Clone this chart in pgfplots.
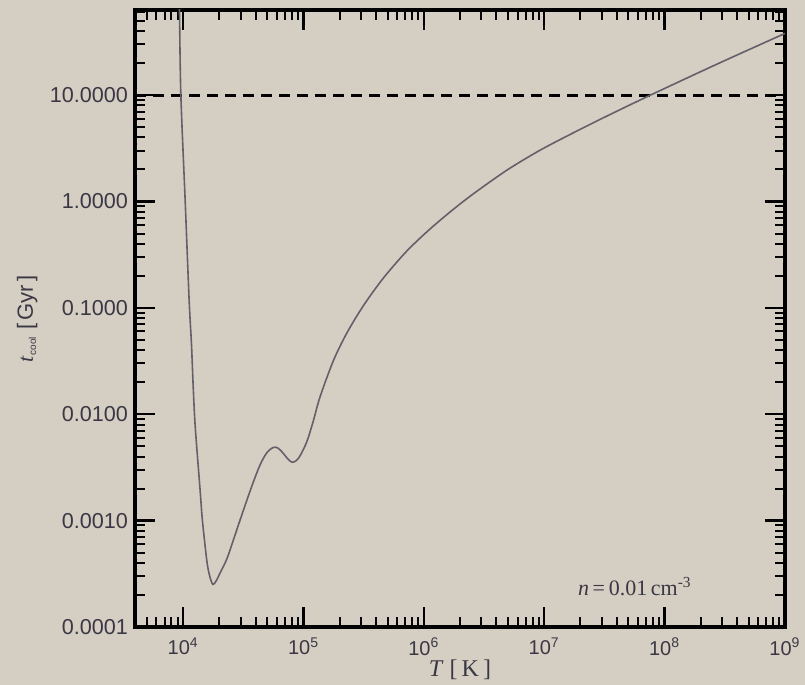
\documentclass[border=0pt]{standalone}
\usepackage{fontspec}
\setmainfont{Liberation Sans}
\newfontfamily\seriffont{Liberation Serif}
\usepackage{pgfplots}
\pgfplotsset{compat=1.18}

\definecolor{paper}{RGB}{213,206,195}
\definecolor{labelgray}{RGB}{58,56,68}
\definecolor{curvegray}{RGB}{100,96,106}

\begin{document}
\begin{tikzpicture}
\fill[paper] (-67.5pt,-29pt) rectangle (335pt,313.5pt);
\begin{axis}[
  at={(0pt,0pt)}, anchor=south west,
  scale only axis, width=325pt, height=308.5pt,
  xmode=log, ymode=log,
  xmin=3981, xmax=1e9, ymin=1e-4, ymax=63.1,
  axis line style={line width=1.6pt, black},
  tick align=inside,
  major tick length=10pt, minor tick length=5pt,
  major tick style={line width=1.2pt, black},
  minor tick style={line width=1.0pt, black},
  xtick={1e4,1e5,1e6,1e7,1e8,1e9},
  xticklabels={10\textsuperscript{4},10\textsuperscript{5},10\textsuperscript{6},10\textsuperscript{7},10\textsuperscript{8},10\textsuperscript{9}},
  minor xtick={5e3,6e3,7e3,8e3,9e3,
    2e4,3e4,4e4,5e4,6e4,7e4,8e4,9e4,
    2e5,3e5,4e5,5e5,6e5,7e5,8e5,9e5,
    2e6,3e6,4e6,5e6,6e6,7e6,8e6,9e6,
    2e7,3e7,4e7,5e7,6e7,7e7,8e7,9e7,
    2e8,3e8,4e8,5e8,6e8,7e8,8e8,9e8},
  ytick={1e-4,1e-3,1e-2,1e-1,1,10},
  yticklabels={0.0001,0.0010,0.0100,0.1000,1.0000,10.0000},
  minor ytick={2e-4,3e-4,4e-4,5e-4,6e-4,7e-4,8e-4,9e-4,
    2e-3,3e-3,4e-3,5e-3,6e-3,7e-3,8e-3,9e-3,
    2e-2,3e-2,4e-2,5e-2,6e-2,7e-2,8e-2,9e-2,
    0.2,0.3,0.4,0.5,0.6,0.7,0.8,0.9,
    2,3,4,5,6,7,8,9,
    20,30,40,50,60},
  xticklabel style={font=\fontsize{10}{12}\selectfont, text=labelgray, yshift=-2pt},
  yticklabel style={font=\fontsize{10.8}{13}\selectfont, text=labelgray},
  xlabel={{\seriffont\textit{T} [\,K\,]}},
  xlabel style={at={(axis description cs:0.5,0)}, anchor=center, yshift=-21.5pt,
    font=\fontsize{12}{14}\selectfont, text=labelgray},
  ylabel={{\seriffont\textit{t}}\textsubscript{\tiny cool} [\,Gyr\,]},
  ylabel style={at={(axis description cs:-0.166,0.5)}, anchor=center,
    font=\fontsize{11}{13}\selectfont, text=labelgray},
  clip=true,
]
% reference cooling time of 10 Gyr
\addplot[black, line width=1.4pt, dash pattern=on 5.5pt off 3.5pt]
  coordinates {(3981,10) (1e9,10)};

% cooling time of gas at n = 0.01 cm^-3 (T in K, t_cool in Gyr)
\addplot[curvegray, line width=0.8pt, smooth, tension=0.5] table {
T          tcool
9.141e3    231.7
9.318e3    63.15
9.570e3    10.0
1.0390e4   1.0264
1.1215e4   0.11739
1.1719e4   0.04622
1.2109e4   0.01859
1.2581e4   0.007810
1.3842e4   0.0019079
1.4465e4   0.0009956
1.5735e4   0.00041826
1.6602e4   0.00030214
1.7647e4   0.00025130
1.8796e4   0.00027116
2.0291e4   0.00032255
2.3067e4   0.00043685
2.6167e4   0.00065949
2.9745e4   0.0010174
3.3818e4   0.0015527
3.8354e4   0.0023189
4.3605e4   0.0033530
4.9568e4   0.0043495
5.6234e4   0.0048804
6.1518e4   0.0047969
6.7702e4   0.0043026
7.4493e4   0.0037768
8.0422e4   0.0035400
8.6795e4   0.0036563
9.3712e4   0.0040753
1.0651e5   0.0055208
1.2015e5   0.0085192
1.3738e5   0.014646
1.7712e5   0.031908
2.2887e5   0.057901
3.1443e5   0.10488
4.6097e5   0.19079
7.2111e5   0.34196
1.1259e6   0.55208
1.7579e6   0.84469
2.6617e6   1.2129
4.9568e6   1.9886
9.2278e6   3.0344
1.7348e7   4.4063
3.3048e7   6.3445
7.8137e7   10.130
2.7774e8   19.755
1.0e9      38.019
};

\node[font=\seriffont\fontsize{11}{13}\selectfont, text=labelgray]
  at (rel axis cs:0.769,0.065) {\textit{n}\,=\,0.01\,cm\textsuperscript{-3}};
\end{axis}
\pgfresetboundingbox
\path (-67.5pt,-29pt) rectangle (335pt,313.5pt);
\end{tikzpicture}
\end{document}
